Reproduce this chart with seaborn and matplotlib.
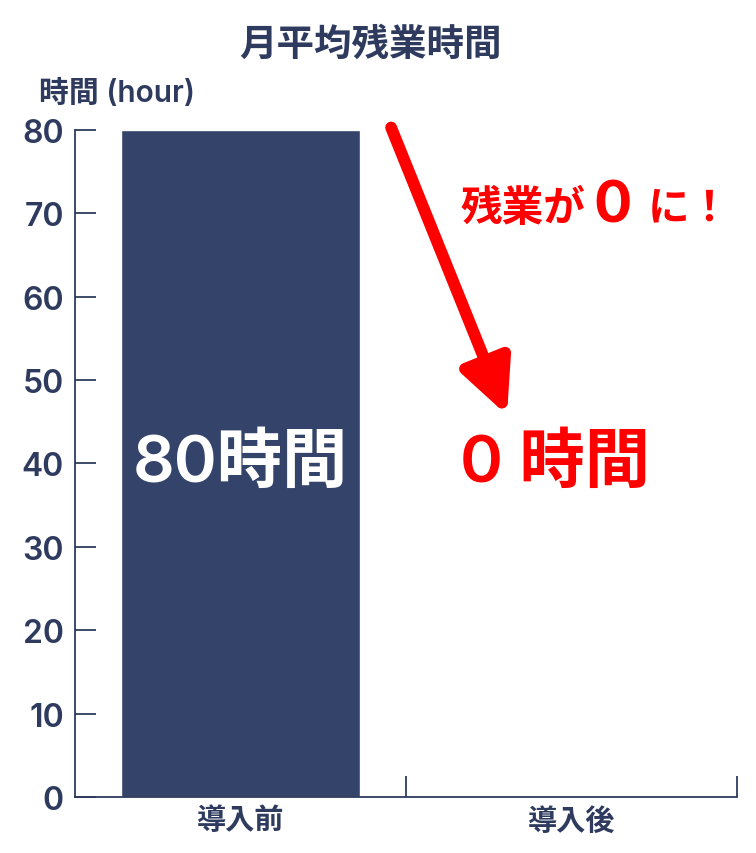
import matplotlib
matplotlib.use("Agg")
import matplotlib.pyplot as plt
import seaborn as sns
import pandas as pd

# data
categories = ["導入前", "導入後"]
hours = [80, 0]
yticks = [0, 10, 20, 30, 40, 50, 60, 70, 80]

TITLE = "月平均残業時間"
YLABEL = "時間 (hour)"
NAVY = "#334369"
TEXT_NAVY = "#2e3b5e"
RED = "#ff0000"

sns.set_theme(style="white")
# latin digits in a geometric face, kanji falls back to Noto CJK
plt.rcParams["font.family"] = ["Inter", "Noto Sans CJK JP", "DejaVu Sans"]

df = pd.DataFrame({"phase": categories, "hours": hours})

fig = plt.figure(figsize=(7.56, 8.54), dpi=100)
ax = fig.add_axes([0.0992, 0.0656, 0.8757, 0.781])

sns.barplot(data=df, x="phase", y="hours", color=NAVY, width=0.72,
            saturation=1, ax=ax)

ax.set_xlim(-0.5, 1.5)
ax.set_ylim(0, 80)
ax.set_yticks(yticks)
ax.set_xlabel("")
ax.set_ylabel("")

for side in ["top", "right"]:
    ax.spines[side].set_visible(False)
for side in ["left", "bottom"]:
    ax.spines[side].set_color(TEXT_NAVY)
    ax.spines[side].set_linewidth(1.3)

# y ticks point inward, x ticks sit on the category boundaries
ax.tick_params(axis="y", direction="in", length=15, width=1.3, color=TEXT_NAVY,
               labelsize=23, labelcolor=TEXT_NAVY, pad=8, left=True)
for lab in ax.get_yticklabels():
    lab.set_fontweight("semibold")
ax.set_xticks([0.5, 1.5], minor=True)
ax.tick_params(axis="x", which="minor", direction="in", length=15, width=1.3,
               color=TEXT_NAVY, bottom=True)
ax.tick_params(axis="x", which="major", length=0, labelsize=21,
               labelcolor=TEXT_NAVY, pad=7)
for lab in ax.get_xticklabels():
    lab.set_fontweight("bold")

fig.text(0.49, 0.946, TITLE, ha="center", va="center", fontsize=27,
         fontweight="bold", color=TEXT_NAVY)
fig.text(0.052, 0.891, YLABEL, ha="left", va="center", fontsize=21.5,
         fontweight="semibold", color=TEXT_NAVY)

# value labels
ax.text(0, 40, f"{hours[0]}時間", ha="center", va="center", fontsize=47,
        fontweight="semibold", color="white")
ax.text(0.95, 40, f"{hours[1]} 時間", ha="center", va="center", fontsize=47,
        fontweight="semibold", color=RED)

# arrow from the top of the first bar down toward the second value
ax.annotate("", xy=(0.805, 45.8), xytext=(0.455, 80.3),
            arrowprops=dict(arrowstyle="-|>,head_length=2.7,head_width=1.3",
                            color=RED, lw=8.5, shrinkA=0, shrinkB=0),
            annotation_clip=False)

# "残業が0に！"
ax.text(0.665, 70.6, "残業が", ha="left", va="center", fontsize=30,
        fontweight="bold", color=RED)
ax.text(1.065, 70.8, "0", ha="left", va="center", fontsize=41,
        fontweight="bold", color=RED)
ax.text(1.23, 70.6, "に！", ha="left", va="center", fontsize=30,
        fontweight="bold", color=RED)

fig.savefig("out.png", dpi=100, facecolor="white")
